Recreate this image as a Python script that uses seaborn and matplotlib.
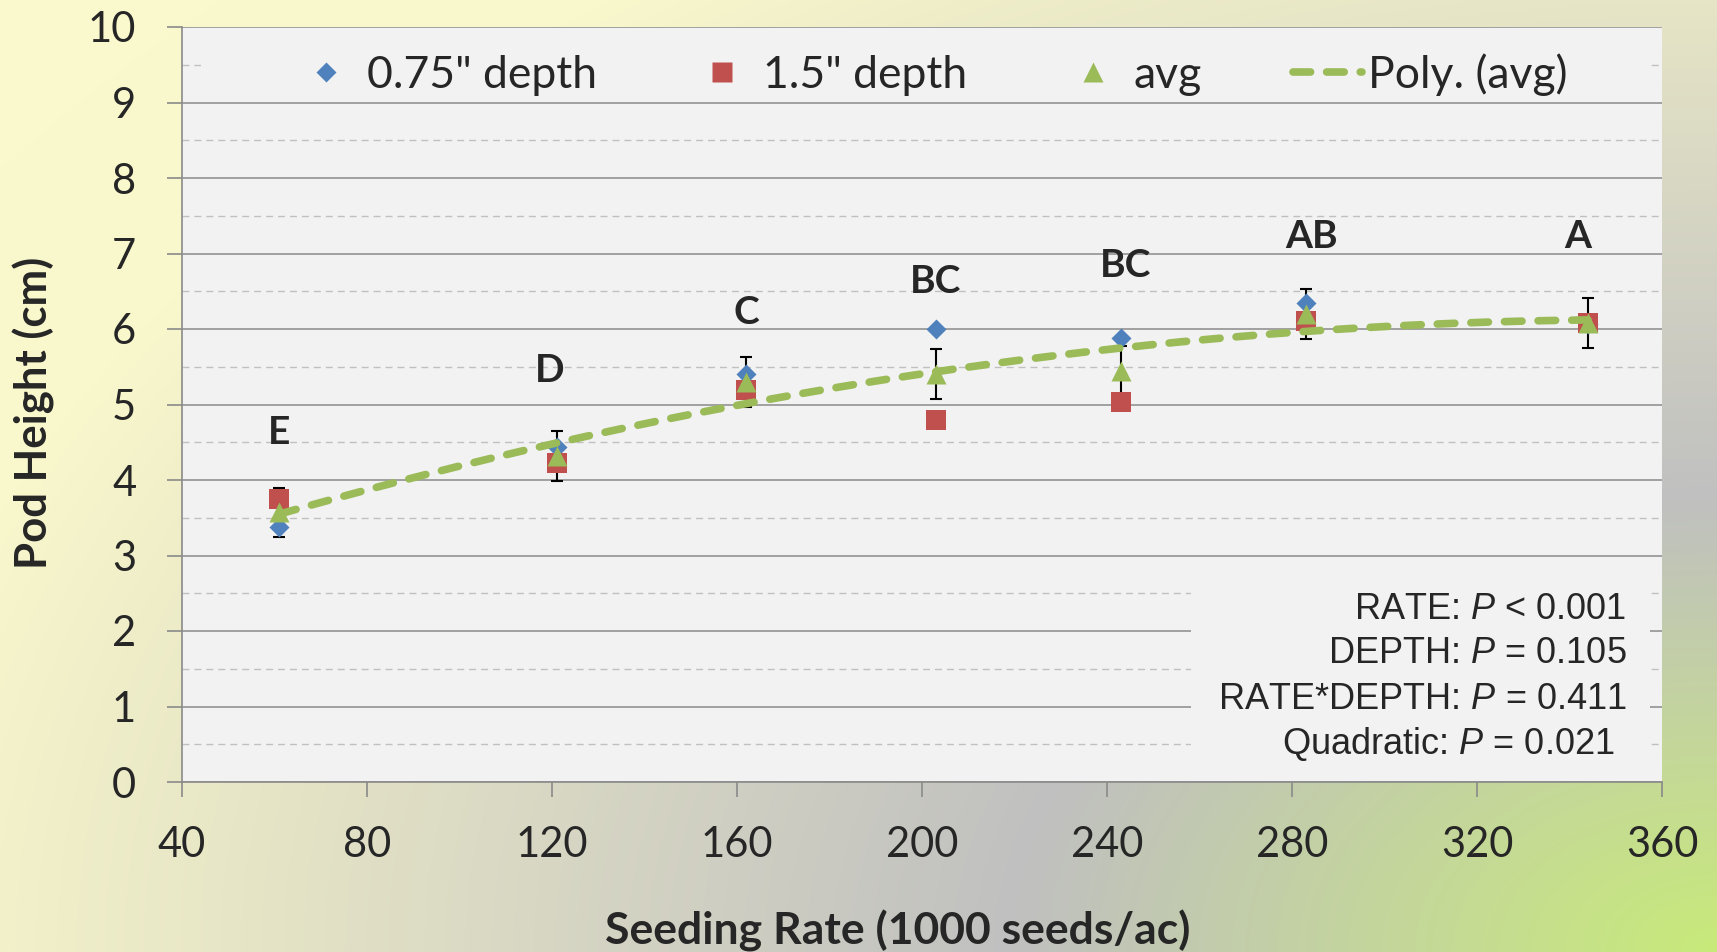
import numpy as np
import matplotlib
matplotlib.use("Agg")
import matplotlib.pyplot as plt
from matplotlib.lines import Line2D
from matplotlib.patches import Rectangle
import seaborn as sns

# ---- data -------------------------------------------------------------
rate = [61, 121, 162, 203, 243, 283, 344]                 # 1000 seeds/ac
depth_075 = [3.38, 4.44, 5.41, 6.00, 5.88, 6.34, 6.07]   # 0.75" depth
depth_15 = [3.75, 4.22, 5.19, 4.80, 5.03, 6.11, 6.08]    # 1.5" depth
avg = [3.57, 4.32, 5.30, 5.40, 5.45, 6.20, 6.08]         # mean of depths
avg_err = [0.33, 0.33, 0.33, 0.33, 0.33, 0.33, 0.33]
letters = ["E", "D", "C", "BC", "BC", "AB", "A"]
letter_x = [61, 119.5, 162, 203, 244, 284.3, 341.8]
letter_y = [4.63, 5.45, 6.22, 6.63, 6.84, 7.23, 7.23]
series_labels = ['0.75" depth', '1.5" depth', "avg", "Poly. (avg)"]
stats_lines = ["RATE: $P$ < 0.001", "DEPTH: $P$ = 0.105",
               "RATE*DEPTH: $P$ = 0.411", "Quadratic: $P$ = 0.021"]
x_ticks = [40, 80, 120, 160, 200, 240, 280, 320, 360]
y_ticks = [0, 1, 2, 3, 4, 5, 6, 7, 8, 9, 10]
y_minor = [0.5, 1.5, 2.5, 3.5, 4.5, 5.5, 6.5, 7.5, 8.5, 9.5]

BLUE, RED, GREEN = "#4F81BD", "#C0504D", "#9BBB59"
GRID = "#8a8a8a"
PANEL = "#f2f2f2"

sns.set_style("ticks")
plt.rcParams["font.family"] = ["Lato", "DejaVu Sans"]
plt.rcParams["mathtext.fontset"] = "custom"
plt.rcParams["mathtext.it"] = "Liberation Sans:italic"
plt.rcParams["mathtext.rm"] = "Liberation Sans"

W, H, DPI = 1717, 952, 100
fig = plt.figure(figsize=(W / DPI, H / DPI), dpi=DPI)

# ---- gradient backdrop ------------------------------------------------
bg = fig.add_axes([0, 0, 1, 1], zorder=-5)
gy, gx = np.mgrid[0:1:240j, 0:1:430j]
r = np.sqrt(1.35 * (1 - gx) ** 2 + (1 - gy) ** 2)
stops = [0.0, 0.475, 1.0, 1.25, 1.6]
cols = np.array([[200, 234, 122], [192, 192, 192], [230, 229, 198],
                 [249, 247, 204], [251, 250, 206]]) / 255.0
img = np.stack([np.interp(r, stops, cols[:, k]) for k in range(3)], axis=-1)
bg.imshow(img, aspect="auto", interpolation="bilinear",
          extent=(0, 1, 0, 1), origin="upper")
bg.set_axis_off()

# ---- plot area --------------------------------------------------------
ax = fig.add_axes([182 / W, 1 - 782 / H, 1480 / W, 755 / H])
ax.set_facecolor(PANEL)
ax.set_xlim(40, 360)
ax.set_ylim(0, 10)
ax.set_xticks(x_ticks)
ax.set_yticks(y_ticks)
ax.set_yticks(y_minor, minor=True)
ax.set_axisbelow(True)
ax.yaxis.grid(True, which="major", color=GRID, lw=1.1)
ax.yaxis.grid(True, which="minor", color="#c0c0c0", lw=1.0,
              linestyle=(0, (5, 3.6)))
ax.xaxis.grid(False)
for side in ("top", "right"):
    ax.spines[side].set_visible(False)
for side in ("left", "bottom"):
    ax.spines[side].set_color(GRID)
    ax.spines[side].set_linewidth(1.2)
ax.tick_params(axis="both", which="major", direction="out", length=11,
               width=1.2, color=GRID, labelsize=30)
ax.tick_params(axis="y", which="major", pad=22)
ax.tick_params(axis="x", which="major", pad=21)
ax.tick_params(axis="both", which="minor", length=0)

# panels behind the legend and the statistics mask the grid
ax.add_patch(Rectangle((0.682, 0.005), 0.31, 0.27, transform=ax.transAxes,
                       facecolor=PANEL, edgecolor="none", zorder=1.5))
ax.add_patch(Rectangle((0.013, 0.912), 0.979, 0.075, transform=ax.transAxes,
                       facecolor=PANEL, edgecolor="none", zorder=1.5))

# error bars on the average
ax.errorbar(rate, avg, yerr=avg_err, fmt="none", ecolor="black",
            elinewidth=1.5, capsize=4.5, capthick=1.5, zorder=2)

sns.scatterplot(x=rate, y=depth_075, marker="D", s=104, color=BLUE,
                linewidth=0, ax=ax, zorder=3, legend=False)
sns.scatterplot(x=rate, y=depth_15, marker="s", s=207, color=RED,
                linewidth=0, ax=ax, zorder=4, legend=False)

# quadratic trendline through the averages
coef = np.polyfit(rate, avg, 2)
xs = np.linspace(min(rate), max(rate), 300)
trend, = ax.plot(xs, np.polyval(coef, xs), color=GREEN, lw=5.5, zorder=5,
                 dash_capstyle="round")
trend.set_dashes((2.3, 2.1))

sns.scatterplot(x=rate, y=avg, marker="^", s=207, color=GREEN,
                linewidth=0, ax=ax, zorder=6, legend=False)

# significance letters
for xv, yv, t in zip(letter_x, letter_y, letters):
    ax.text(xv, yv, t, ha="center", va="center", fontsize=28,
            fontweight="bold", zorder=7)

# statistics text
stat_pos = [(0.976, 0.229), (0.976, 0.1706), (0.976, 0.109), (0.968, 0.050)]
for (px, py), line in zip(stat_pos, stats_lines):
    ax.text(px, py, line, transform=ax.transAxes, ha="right", va="center",
            fontsize=26, family="Liberation Sans", zorder=7)

# legend
trend_handle = Line2D([], [], color=GREEN, lw=5.5, dash_capstyle="round")
trend_handle.set_dashes((2.3, 2.1))
handles = [
    Line2D([], [], ls="none", marker="D", ms=10.2, color=BLUE, mec="none"),
    Line2D([], [], ls="none", marker="s", ms=14.4, color=RED, mec="none"),
    Line2D([], [], ls="none", marker="^", ms=14.4, color=GREEN, mec="none"),
    trend_handle,
]
leg = ax.legend(handles, series_labels, ncol=4, loc="center",
                bbox_to_anchor=(0.505, 0.937), frameon=False,
                fontsize=32, handlelength=1.55, handletextpad=0.14,
                columnspacing=2.05, borderpad=0.2)
leg.set_zorder(8)

# axis titles
fig.text(898 / W, 0.0, "Seeding Rate (1000 seeds/ac)", ha="center",
         va="bottom", fontsize=32, fontweight="bold")
fig.text(34 / W, 1 - 413 / H, "Pod Height (cm)", rotation=90, ha="center",
         va="center", fontsize=31.5, fontweight="bold")

fig.savefig("out.png", dpi=DPI)
